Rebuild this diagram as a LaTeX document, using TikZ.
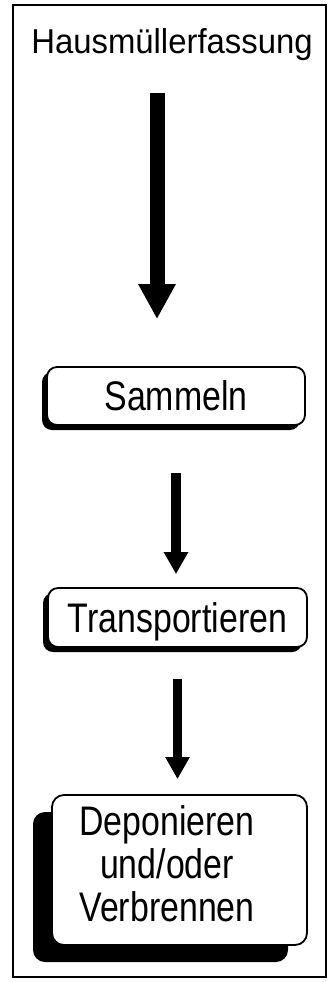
\documentclass[tikz,border=0pt]{standalone}
\usepackage{graphicx}
\usepackage{fontspec}
\setmainfont{Liberation Sans}
\usetikzlibrary{arrows.meta,shadows}
% box labels are set a little higher than wide
\newcommand\tall[1]{\scalebox{1}[1.22]{#1}}

\begin{document}
\begin{tikzpicture}[
  stepbox/.style={draw,line width=1.8bp,rounded corners=10bp,fill=white,inner sep=0pt,
    font=\fontsize{34}{35.6}\selectfont},
  shadow small/.style={drop shadow={shadow xshift=-5bp,shadow yshift=-5bp,fill=black,opacity=1}},
  shadow big/.style={drop shadow={shadow xshift=-19bp,shadow yshift=-17bp,fill=black,opacity=1}},
  flow/.style={-{Triangle[width=23bp,length=22bp]},line width=9.5bp},
  bigflow/.style={-{Triangle[width=35bp,length=35bp]},line width=15bp}
]
\useasboundingbox (0bp,0bp) rectangle (332bp,-982bp);

% outer frame
\draw [line width=1.5bp] (13bp,-5bp) rectangle (326bp,-977bp);

\node (Hm) at (172bp,-53bp)[anchor=base,inner sep=0pt,font=\fontsize{33}{40}\selectfont] {\scalebox{1}[1.05]{Hausmüllerfassung}};

\node (Sa) at (176bp,-396bp)[stepbox,shadow small,minimum width=258bp,minimum height=58bp] {\tall{Sammeln}};
\node (Tr) at (177.5bp,-617.5bp)[stepbox,shadow small,text depth=0pt,minimum width=259bp,minimum height=59bp] {\tall{Transportieren}};
\node (De) at (179.5bp,-870bp)[stepbox,shadow big,rounded corners=12bp,minimum width=255bp,minimum height=150bp]
  {\tall{\begin{tabular}{@{}c@{}}Deponieren\\ und/oder\\ Verbrennen\end{tabular}}\hspace*{25bp}};

\draw [bigflow,shorten <=33bp,shorten >=47bp] ([xshift=-15bp]Hm.south) -- ([xshift=-15bp]Hm.south |- Sa.north);
\draw [flow,shorten <=47bp,shorten >=13bp] (Sa.south) -- (Sa.south |- Tr.north);
\draw [flow,shorten <=31bp,shorten >=15bp] (Tr.south) -- (Tr.south |- De.north);
\end{tikzpicture}
\end{document}
